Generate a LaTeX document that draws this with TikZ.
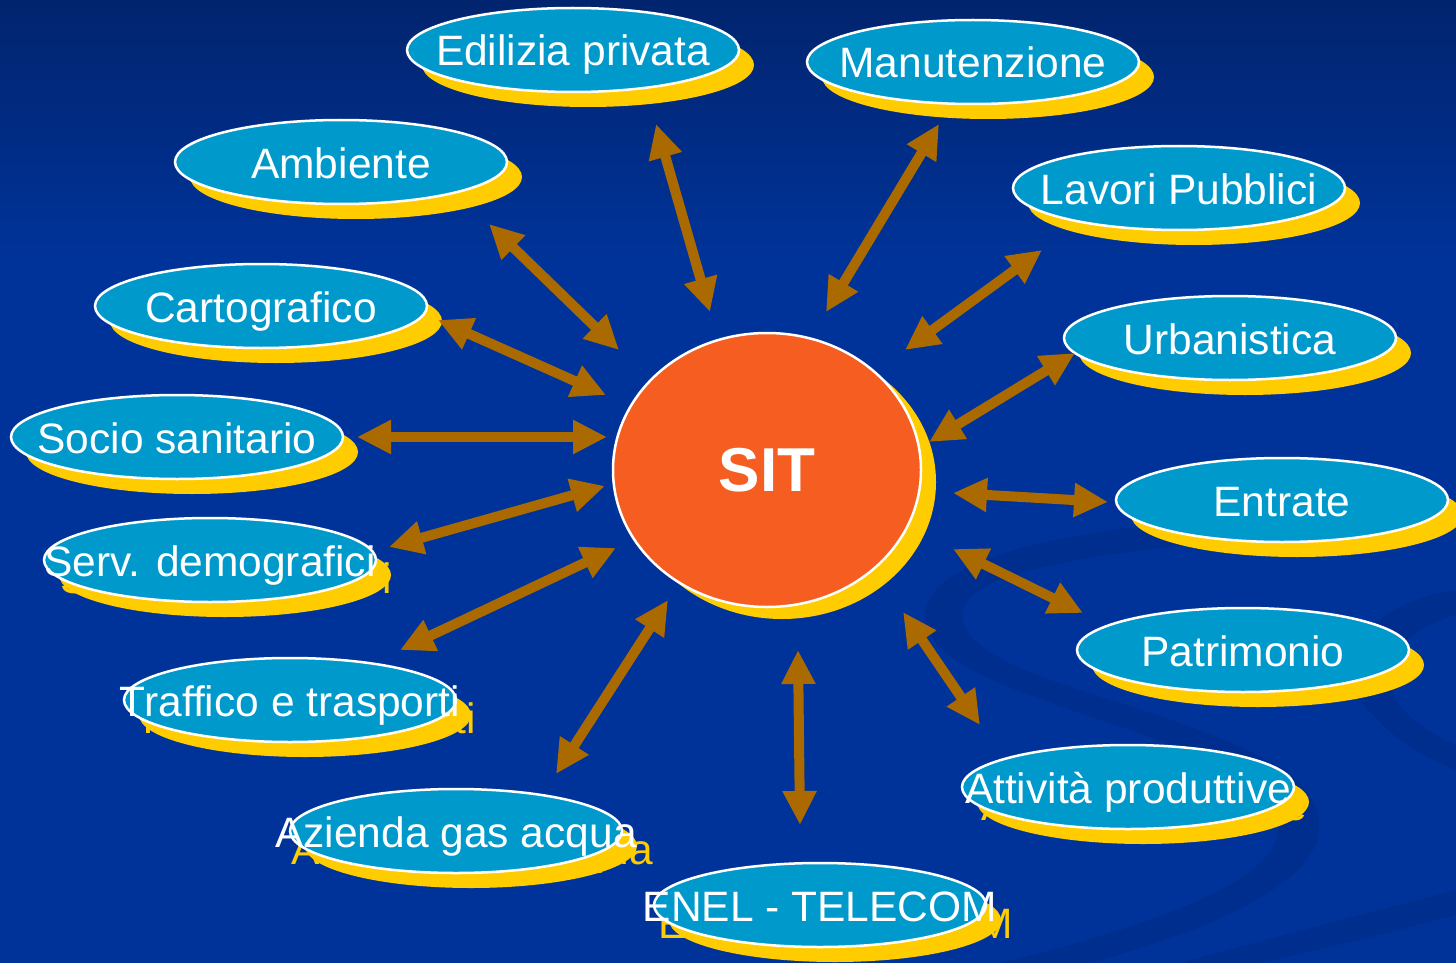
\documentclass[tikz,border=0pt]{standalone}
\usepackage{fontspec}
\setmainfont{Liberation Sans}
\usetikzlibrary{arrows.meta,shapes.geometric}
\definecolor{bgtop}{RGB}{1,36,110}
\definecolor{bgmain}{RGB}{0,51,153}
\definecolor{swirl}{RGB}{0,46,142}
\definecolor{bubblefill}{RGB}{0,153,204}
\definecolor{shadowyellow}{RGB}{255,204,0}
\definecolor{sitfill}{RGB}{245,94,32}
\definecolor{arrowbrown}{RGB}{170,106,0}
\tikzset{
  bubble/.style={ellipse, fill=bubblefill, draw=white, line width=2.5pt, minimum width=332pt, minimum height=84pt, inner sep=0pt},
  bubshadow/.style={ellipse, fill=shadowyellow, minimum width=332pt, minimum height=84pt, inner sep=0pt},
  bubtext/.style={text=white, font=\fontsize{42.5}{50}\selectfont, inner sep=0pt, anchor=base},
  shtext/.style={text=shadowyellow, font=\fontsize{42.5}{50}\selectfont, inner sep=0pt, anchor=base},
  biarrow/.style={draw=arrowbrown, line width=10pt, {Triangle[length=34pt,width=32pt]}-{Triangle[length=34pt,width=32pt]}}
}
% bubble without visible text shadow
\newcommand\mybub[4]{%
  \node[bubshadow] (#1s) at (#2+15,#3+15) {};
  \node[bubble] (#1) at (#2,#3) {};
  \node[bubtext] (#1t) at (#2,#3+16) {#4};
}
% bubble whose yellow text shadow shows past the ellipse
\newcommand\mybubt[4]{%
  \node[bubshadow] (#1s) at (#2+15,#3+15) {};
  \node[shtext] (#1st) at (#2+16,#3+33) {#4};
  \node[bubble] (#1) at (#2,#3) {};
  \node[bubtext] (#1t) at (#2,#3+16) {#4};
}
\begin{document}
\begin{tikzpicture}[x=1pt,y=-1pt]
\useasboundingbox (0,0) rectangle (1456,963);
% background
\fill[bgmain] (0,0) rectangle (1456,963);
\shade[top color=bgtop, bottom color=bgmain] (0,0) rectangle (1456,260);
% faint swirls
\fill[swirl] (1456,505) .. controls (1150,515) and (940,540) .. (925,610)
  .. controls (915,690) and (1150,715) .. (1250,785)
  .. controls (1330,845) and (1240,905) .. (1000,963) -- (1090,963)
  .. controls (1320,900) and (1360,830) .. (1285,770)
  .. controls (1170,700) and (965,680) .. (962,615)
  .. controls (960,565) and (1150,540) .. (1456,528) -- cycle;
\fill[swirl] (1456,590) .. controls (1380,600) and (1330,650) .. (1360,700)
  .. controls (1390,740) and (1430,760) .. (1456,770) -- (1456,745)
  .. controls (1400,720) and (1380,690) .. (1395,655)
  .. controls (1410,630) and (1440,620) .. (1456,615) -- cycle;
\fill[swirl] (1180,963) .. controls (1300,930) and (1400,905) .. (1456,890) -- (1456,915)
  .. controls (1400,930) and (1320,950) .. (1260,963) -- cycle;
% central SIT
\node[ellipse, fill=shadowyellow, minimum width=308pt, minimum height=274pt, inner sep=0pt] (sits) at (782,482) {};
\node[ellipse, fill=sitfill, draw=white, line width=2.5pt, minimum width=308pt, minimum height=274pt, inner sep=0pt, text=white, font=\bfseries\fontsize{62}{70}\selectfont] (sit) at (767,470) {SIT};
% bubbles
\mybub{edil}{573}{50}{Edilizia privata}
\mybub{manu}{973}{62}{Manutenzione}
\mybub{ambi}{341}{162}{Ambiente}
\mybub{lavo}{1179}{188}{Lavori Pubblici}
\mybub{carto}{261}{306}{Cartografico}
\mybub{urba}{1230}{338}{Urbanistica}
\mybub{socio}{177}{437}{Socio sanitario}
\mybub{entr}{1282}{500}{Entrate}
\mybubt{serv}{210}{560}{Serv. demografici}
\mybub{patr}{1243}{650}{Patrimonio}
\mybubt{traf}{290}{700}{Traffico e trasporti}
\mybubt{atti}{1128}{787}{Attività produttive}
\mybubt{azie}{456}{831}{Azienda gas acqua}
\mybubt{enel}{820}{905}{ENEL - TELECOM}
% arrow end points
\coordinate (a1) at (656,124);  \coordinate (b1) at (710,312);
\coordinate (a2) at (939,124);  \coordinate (b2) at (826,312);
\coordinate (a3) at (489,224);  \coordinate (b3) at (619,350);
\coordinate (a4) at (1042,250); \coordinate (b4) at (905,350);
\coordinate (a5) at (438,320);  \coordinate (b5) at (606,395);
\coordinate (a6) at (1075,353); \coordinate (b6) at (929,442);
\coordinate (a7) at (357,437);  \coordinate (b7) at (607,437);
\coordinate (a8) at (1108,502); \coordinate (b8) at (953,493);
\coordinate (a9) at (389,547);  \coordinate (b9) at (605,486);
\coordinate (a10) at (1083,613); \coordinate (b10) at (953,549);
\coordinate (a11) at (400,650); \coordinate (b11) at (616,548);
\coordinate (a12) at (980,725); \coordinate (b12) at (903,612);
\coordinate (a13) at (556,774); \coordinate (b13) at (668,600);
\coordinate (a14) at (800,825); \coordinate (b14) at (798,650);
\foreach \i in {1,...,14} \draw[biarrow] (a\i) -- (b\i);
\end{tikzpicture}
\end{document}
